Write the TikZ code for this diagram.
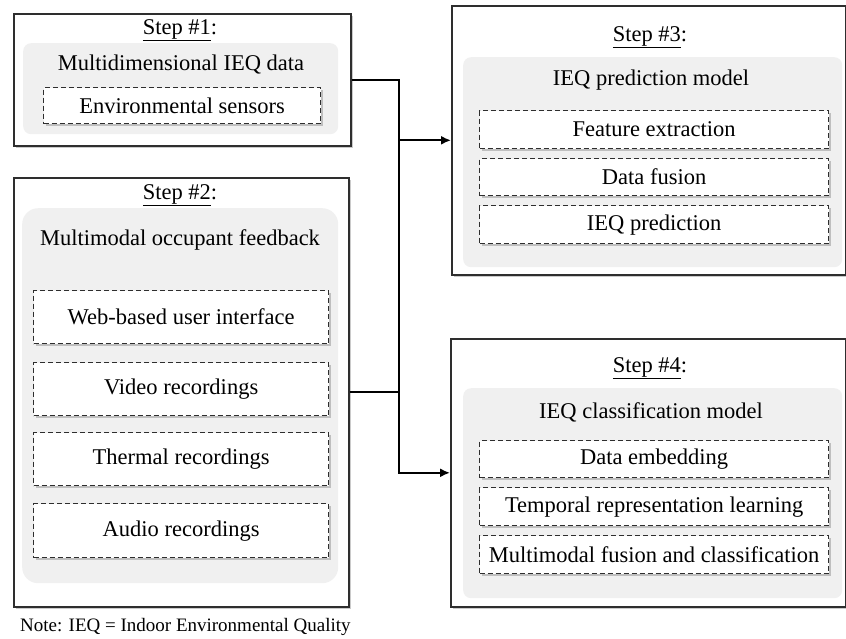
\documentclass[tikz,border=0pt]{standalone}
\usepackage{fontspec}
\setmainfont{Liberation Serif}
\usetikzlibrary{arrows.meta,shadows}

\definecolor{panelgray}{HTML}{F0F0F0}
\definecolor{edgegray}{HTML}{2E2E2E}

\tikzset{
  stepframe/.style={draw=edgegray, line width=1.6pt, fill=white, anchor=north west,
    inner sep=0pt,
    drop shadow={shadow xshift=2.5pt, shadow yshift=-2.5pt, opacity=0.35, fill=black!60}},
  panel/.style={fill=panelgray, rounded corners=8pt, anchor=north west, inner sep=0pt},
  item/.style={draw=edgegray, dashed, dash pattern=on 5pt off 3pt, line width=1.3pt,
    fill=white, anchor=north west, inner sep=0pt,
    drop shadow={shadow xshift=2pt, shadow yshift=-2pt, opacity=0.35, fill=black!60},
    font=\fontsize{22.5}{26}\selectfont},
  label/.style={font=\fontsize{22.5}{26}\selectfont, inner sep=0pt},
  wire/.style={line width=1.8pt, black},
  arrowwire/.style={wire, -{Latex[length=10pt,width=9pt]}},
}

\begin{document}
\begin{tikzpicture}[x=1pt,y=-1pt]
\useasboundingbox (0,0) rectangle (846,638);

% Step 1: IEQ data
\node[stepframe, minimum width=337pt, minimum height=132pt] (b1) at (13,13) {};
\node[panel, minimum width=315pt, minimum height=91pt] (p1) at (23,43) {};
\node[label] (s1) at (180,30) {\underline{Step \#1}:};
\node[label] (t1) at (181,65) {Multidimensional IEQ data};
\node[item, minimum width=277pt, minimum height=36pt] (i11) at (43,87) {};
\node[label] (i11t) at (i11.center) {Environmental sensors};

% Step 2: occupant feedback
\node[stepframe, minimum width=335pt, minimum height=429pt] (b2) at (13,177) {};
\node[panel, rounded corners=16pt, minimum width=316pt, minimum height=375pt] (p2) at (22,208) {};
\node[label] (s2) at (180,195) {\underline{Step \#2}:};
\node[label] (t2) at (180,240) {Multimodal occupant feedback};
\node[item, minimum width=295pt, minimum height=53pt] (i21) at (33,290) {};
\node[label] at (i21.center) {Web-based user interface};
\node[item, minimum width=295pt, minimum height=53pt] (i22) at (33,362) {};
\node[label] at (i22.center) {Video recordings};
\node[item, minimum width=295pt, minimum height=53pt] (i23) at (33,432) {};
\node[label] at (i23.center) {Thermal recordings};
\node[item, minimum width=295pt, minimum height=54pt] (i24) at (33,503) {};
\node[label] at (i24.center) {Audio recordings};

% Step 3: prediction model
\node[stepframe, minimum width=394pt, minimum height=269pt] (b3) at (451,5) {};
\node[panel, minimum width=379pt, minimum height=210pt] (p3) at (463,57) {};
\node[label] (s3) at (650,37) {\underline{Step \#3}:};
\node[label] (t3) at (651,80) {IEQ prediction model};
\node[item, minimum width=349pt, minimum height=38pt] (i31) at (479,110) {};
\node[label] at (i31.center) {Feature extraction};
\node[item, minimum width=349pt, minimum height=37pt] (i32) at (479,158) {};
\node[label] at (i32.center) {Data fusion};
\node[item, minimum width=349pt, minimum height=38pt] (i33) at (479,205) {};
\node[label] at (i33.center) {IEQ prediction};

% Step 4: classification model
\node[stepframe, minimum width=395pt, minimum height=268pt] (b4) at (450,338) {};
\node[panel, minimum width=379pt, minimum height=210pt] (p4) at (463,388) {};
\node[label] (s4) at (650,368) {\underline{Step \#4}:};
\node[label] (t4) at (651,412) {IEQ classification model};
\node[item, minimum width=349pt, minimum height=37pt] (i41) at (479,440) {};
\node[label] at (i41.center) {Data embedding};
\node[item, minimum width=349pt, minimum height=38pt] (i42) at (479,487) {};
\node[label] at (i42.center) {Temporal representation learning};
\node[item, minimum width=349pt, minimum height=38pt] (i43) at (479,535) {};
\node[label] at (i43.center) {Multimodal fusion and classification};

% Note
\node[font=\fontsize{19}{22}\selectfont, inner sep=0pt, anchor=west] (note) at (20,627)
  {Note: IEQ = Indoor Environmental Quality};

% Connectors
\coordinate (jx) at (399,0);
\draw[arrowwire] (b1.east) -| (jx |- b4.west) -- (b4.west);
\draw[arrowwire] (jx |- b3.west) -- (b3.west);
\draw[wire] (b2.east) -- (jx |- b2.east);
\end{tikzpicture}
\end{document}
